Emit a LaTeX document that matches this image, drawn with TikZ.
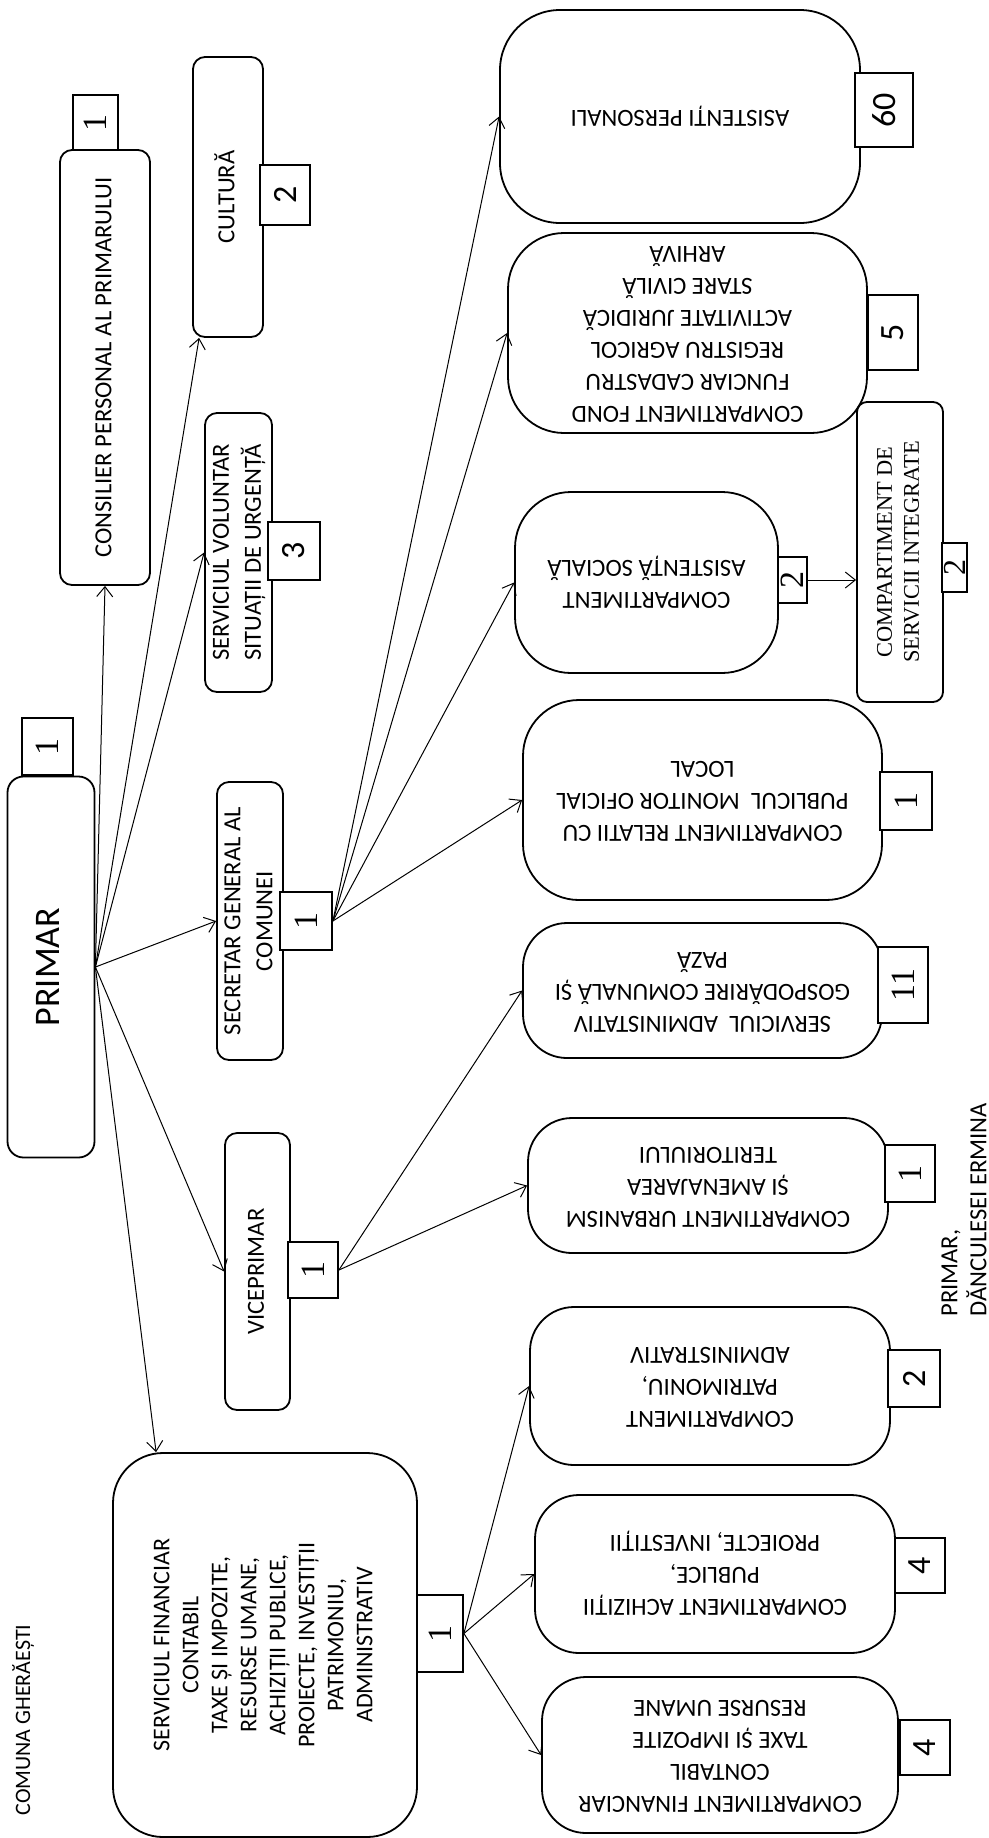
\documentclass[tikz,border=0pt]{standalone}
\usepackage{fontspec}
\setmainfont{Carlito}
\newfontfamily\tms{Liberation Serif}
\usetikzlibrary{arrows.meta,calc}

\newcommand{\ft}{\fontsize{12.3}{16}\selectfont}
\newcommand{\fn}{\fontsize{17}{20}\selectfont}
\newcommand{\up}[1]{\rotatebox{90}{\begin{tabular}{@{}c@{}}#1\end{tabular}}}
\newcommand{\upl}[1]{\rotatebox{90}{\begin{tabular}{@{}l@{}}#1\end{tabular}}}
\newcommand{\dn}[1]{\rotatebox{180}{\begin{tabular}{@{}c@{}}#1\end{tabular}}}
\newcommand{\nr}[1]{\rotatebox{90}{#1}}

\begin{document}
\begin{tikzpicture}[x=0.5pt, y=-0.5pt, >={Straight Barb[length=5pt,width=8pt]},
    box/.style={draw, line width=0.9pt, rounded corners=#1, inner sep=0pt, font=\ft},
    num/.style={draw, line width=0.9pt, fill=white, inner sep=0pt, font=\fn},
    link/.style={->, line width=0.5pt}]
  \useasboundingbox (0,0) rectangle (989,1838);

  % PRIMAR
  \node[box=8pt, minimum width=43.5pt, minimum height=190.5pt] (prim) at (51,967) {\fontsize{18}{22}\selectfont\up{PRIMAR}};
  \node[num, minimum width=25.5pt, minimum height=28.5pt] (primn) at (47.5,746.5) {\tms\nr{1}};

  % second level
  \node[box=6pt, minimum width=45pt, minimum height=217.5pt] (cons) at (105,367.5) {\up{CONSILIER PERSONAL AL PRIMARULUI}};
  \node[num, minimum width=22.5pt, minimum height=27.5pt] (consn) at (95.5,122.5) {\tms\nr{1}};

  \node[box=6pt, minimum width=35pt, minimum height=140pt] (cult) at (228,197) {\up{CULTURĂ}};
  \node[num, minimum width=25pt, minimum height=30pt] (cultn) at (285,195) {\nr{2}};

  \node[box=6pt, minimum width=33.5pt, minimum height=139.5pt] (volu) at (238.5,552.5) {\up{SERVICIUL VOLUNTAR\\SITUAȚII DE URGENȚĂ}};
  \node[num, minimum width=26pt, minimum height=29pt] (volun) at (294,551) {\nr{3}};

  \node[box=6pt, minimum width=33pt, minimum height=139pt] (secr) at (250,921) {\up{SECRETAR GENERAL AL\\COMUNEI}};
  \node[num, minimum width=26pt, minimum height=29pt] (secrn) at (306,921) {\tms\nr{1}};

  \node[box=6pt, minimum width=32.5pt, minimum height=138.5pt] (vice) at (257.5,1271.5) {\up{VICEPRIMAR}};
  \node[num, minimum width=25pt, minimum height=28pt] (vicen) at (313,1270) {\tms\nr{1}};

  \node[box=25pt, minimum width=152pt, minimum height=192pt] (sfin) at (265,1645) {\fontsize{12}{14.5}\selectfont\up{SERVICIUL FINANCIAR\\CONTABIL\\TAXE ȘI IMPOZITE,\\RESURSE UMANE,\\ACHIZIȚII PUBLICE,\\PROIECTE, INVESTIȚII\\PATRIMONIU,\\ADMINISTRATIV}};
  \node[num, minimum width=23pt, minimum height=38.5pt] (sfinn) at (440,1633.5) {\tms\nr{1}};

  % third level, under the secretar
  \node[box=30pt, minimum width=180pt, minimum height=106.5pt] (asip) at (680,116.5) {\dn{ASISTENȚI PERSONALI}};
  \node[num, minimum width=29pt, minimum height=37pt] (asipn) at (884,110) {\nr{60}};

  \node[box=28pt, minimum width=179.5pt, minimum height=100pt] (fond) at (687.5,333) {\dn{COMPARTIMENT FOND\\FUNCIAR CADASTRU\\REGISTRU AGRICOL\\ACTIVITATE JURIDICĂ\\STARE CIVILĂ\\ARHIVĂ}};
  \node[num, minimum width=25pt, minimum height=37.5pt] (fondn) at (893,332.5) {\nr{5}};

  \node[box=28pt, minimum width=131.5pt, minimum height=90.5pt] (asoc) at (646.5,582.5) {\dn{COMPARTIMENT\\ASISTENȚĂ SOCIALĂ}};
  \node[num, minimum width=14.5pt, minimum height=23pt] (asocn) at (792.5,580) {\tms\nr{2}};

  \node[box=5pt, minimum width=43pt, minimum height=150pt] (sint) at (900,552) {\tms\fontsize{11.2}{13.5}\selectfont\up{COMPARTIMENT DE\\SERVICII INTEGRATE}};
  \node[num, minimum width=12.5pt, minimum height=24.5pt] (sintn) at (954.5,567.5) {\tms\fontsize{16}{18}\selectfont\nr{2}};

  \node[box=28pt, minimum width=179.5pt, minimum height=100pt] (rela) at (702.5,800) {\dn{COMPARTIMENT RELATII CU\\PUBLICUL\ \ MONITOR OFICIAL\\LOCAL}};
  \node[num, minimum width=26pt, minimum height=29pt] (relan) at (906,801) {\tms\nr{1}};

  % third level, under the viceprimar
  \node[box=22pt, minimum width=179.5pt, minimum height=67.5pt] (admi) at (702.5,990.5) {\dn{SERVICIUL\ \ ADMINISTATIV\\GOSPODĂRIRE COMUNALĂ ȘI\\PAZĂ}};
  \node[num, minimum width=25pt, minimum height=38pt] (admin) at (903,985) {\tms\nr{11}};

  \node[box=22pt, minimum width=180pt, minimum height=67.5pt] (urba) at (708,1185.5) {\dn{COMPARTIMENT URBANISM\\ȘI AMENAJAREA\\TERITORIULUI}};
  \node[num, minimum width=25pt, minimum height=28.5pt] (urban) at (910,1173.5) {\tms\nr{1}};

  % third level, under the serviciul financiar
  \node[box=22pt, minimum width=180pt, minimum height=79pt] (patr) at (710,1386) {\dn{COMPARTIMENT\\PATRIMONIU,\\ADMINISTRATIV}};
  \node[num, minimum width=26pt, minimum height=28.5pt] (patrn) at (914,1378.5) {\nr{2}};

  \node[box=22pt, minimum width=180pt, minimum height=79pt] (achi) at (715,1574) {\dn{COMPARTIMENT ACHIZIȚII\\PUBLICE,\\PROIECTE, INVESTIȚII}};
  \node[num, minimum width=25pt, minimum height=27.5pt] (achin) at (920,1565.5) {\nr{4}};

  \node[box=22pt, minimum width=178pt, minimum height=78pt] (cfin) at (720,1755) {\dn{COMPARTIMENT FINANCIAR\\CONTABIL\\TAXE ȘI IMPOZITE\\RESURSE UMANE}};
  \node[num, minimum width=25pt, minimum height=27.5pt] (cfinn) at (925,1747.5) {\nr{4}};

  % texts outside the boxes
  \node[font=\fontsize{11}{13}\selectfont, inner sep=0pt] (comuna) at (25,1720) {\up{COMUNA GHERĂEȘTI}};
  \node[font=\fontsize{12.3}{14.5}\selectfont, inner sep=0pt, anchor=south] (semn) at (966,1317) {\upl{PRIMAR,\\DĂNCULESEI ERMINA}};

  % connectors
  \draw[link] (prim.east) -- (cons.south);
  \draw[link] (prim.east) -- ($(cult.south west)+(7,0)$);
  \draw[link] (prim.east) -- (volu.west);
  \draw[link] (prim.east) -- (secr.west);
  \draw[link] (prim.east) -- (vice.west);
  \draw[link] (prim.east) -- ($(sfin.north west)+(44,0)$);

  \draw[link] (secrn.east) -- (asip.west);
  \draw[link] (secrn.east) -- (fond.west);
  \draw[link] (secrn.east) -- (asoc.west);
  \draw[link] (secrn.east) -- (rela.west);
  \draw[link] (asocn.east) -- (asocn.east -| sint.west);

  \draw[link] (vicen.east) -- (admi.west);
  \draw[link] (vicen.east) -- (urba.west);

  \draw[link] (sfinn.east) -- (patr.west);
  \draw[link] (sfinn.east) -- (achi.west);
  \draw[link] (sfinn.east) -- (cfin.west);
\end{tikzpicture}
\end{document}
